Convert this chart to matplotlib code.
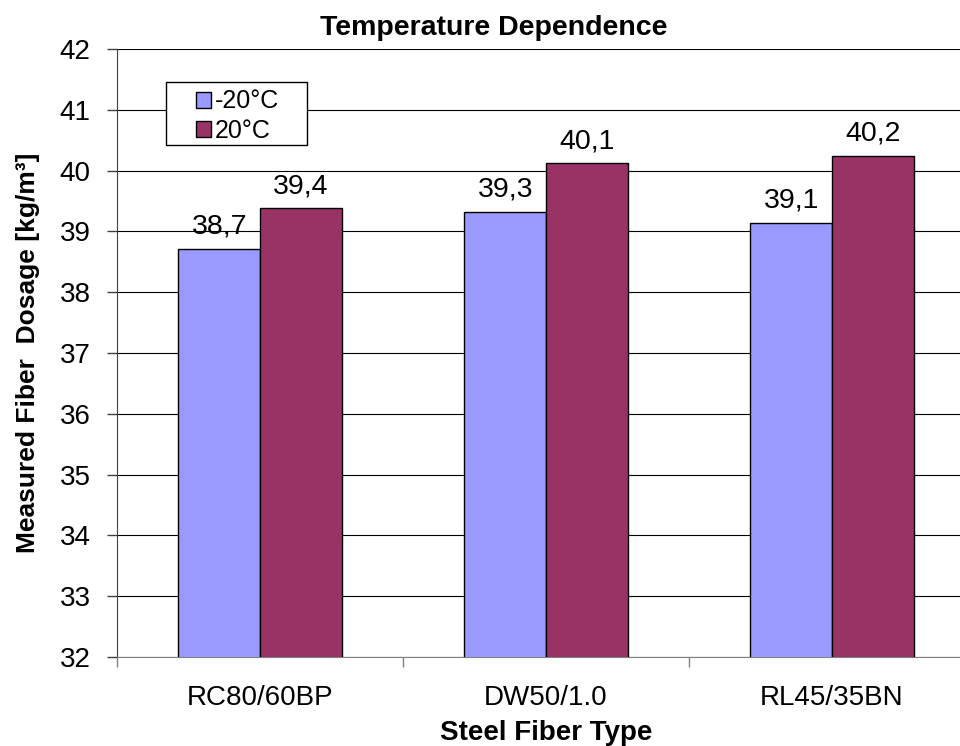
import matplotlib
matplotlib.use("Agg")
import matplotlib.pyplot as plt
from matplotlib.patches import Patch, Rectangle
import numpy as np

# ===============================
# DADOS
# ===============================

categorias = ["RC80/60BP", "DW50/1.0", "RL45/35BN"]
series = ["-20°C", "20°C"]
valores_menos20 = [38.71, 39.32, 39.14]
valores_20 = [39.38, 40.12, 40.24]
y_ticks = list(range(32, 43))

cores = ["#9999FF", "#993366"]

plt.rcParams["font.family"] = ["Liberation Sans", "DejaVu Sans"]

# ===============================
# FIGURA
# ===============================

W, H = 960, 746
fig = plt.figure(figsize=(W / 100, H / 100), dpi=100)
ax = fig.add_axes([117 / W, 1 - 657 / H, 858 / W, 608 / H])

x = np.arange(len(categorias))
largura = 0.285

for k, (vals, cor) in enumerate(zip([valores_menos20, valores_20], cores)):
    pos = x + (k - 0.5) * largura
    ax.bar(pos, vals, width=largura, bottom=0, color=cor,
           edgecolor="black", linewidth=1.0, zorder=3)
    for px, v in zip(pos, vals):
        ax.annotate(f"{v:.1f}".replace(".", ","), (px, v),
                    xytext=(0, 11), textcoords="offset points",
                    ha="center", va="baseline", fontsize=20.5, zorder=4)

ax.set_xlim(-0.5, 2.5)
ax.set_ylim(32, 42)
ax.set_yticks(y_ticks)
ax.yaxis.grid(True, color="black", linewidth=0.8, zorder=0)
ax.set_axisbelow(True)

# ticks principais nas divisas, rótulos nos centros
ax.set_xticks(np.arange(-0.5, 3.0, 1.0))
ax.set_xticklabels([])
ax.set_xticks(x, minor=True)
ax.set_xticklabels(categorias, minor=True)
ax.tick_params(axis="x", which="major", direction="out", length=7,
               width=1, color="#808080")
ax.tick_params(axis="x", which="minor", length=0, pad=20, labelsize=20)
ax.tick_params(axis="y", direction="out", length=7, width=1,
               color="#404040", pad=12, labelsize=20)

for lado in ["top", "right"]:
    ax.spines[lado].set_visible(False)
ax.spines["left"].set_color("#404040")
ax.spines["bottom"].set_color("#808080")

ax.set_xlabel("Steel Fiber Type", fontsize=20, fontweight="bold", labelpad=7)
ax.set_ylabel("Measured Fiber  Dosage [kg/m³]", fontsize=19,
              fontweight="bold", labelpad=14)

fig.text(494 / W, 1 - 35 / H, "Temperature Dependence", ha="center",
         va="baseline", fontsize=20.5, fontweight="bold")

# ===============================
# LEGENDA
# ===============================

caixa = Rectangle((166 / W, 1 - 145 / H), 141 / W, 63 / H,
                  transform=fig.transFigure, facecolor="white",
                  edgecolor="black", linewidth=1.0, zorder=1)
fig.patches.append(caixa)

handles = [Patch(facecolor=c, edgecolor="black", linewidth=1.0) for c in cores]
fig.legend(handles, series, loc="center left",
           bbox_to_anchor=(196 / W, 1 - 116 / H), frameon=False,
           borderpad=0, borderaxespad=0, handlelength=0.6, handleheight=0.6,
           handletextpad=0.15, labelspacing=0.2, fontsize=18)

fig.savefig("out.png", dpi=100)
